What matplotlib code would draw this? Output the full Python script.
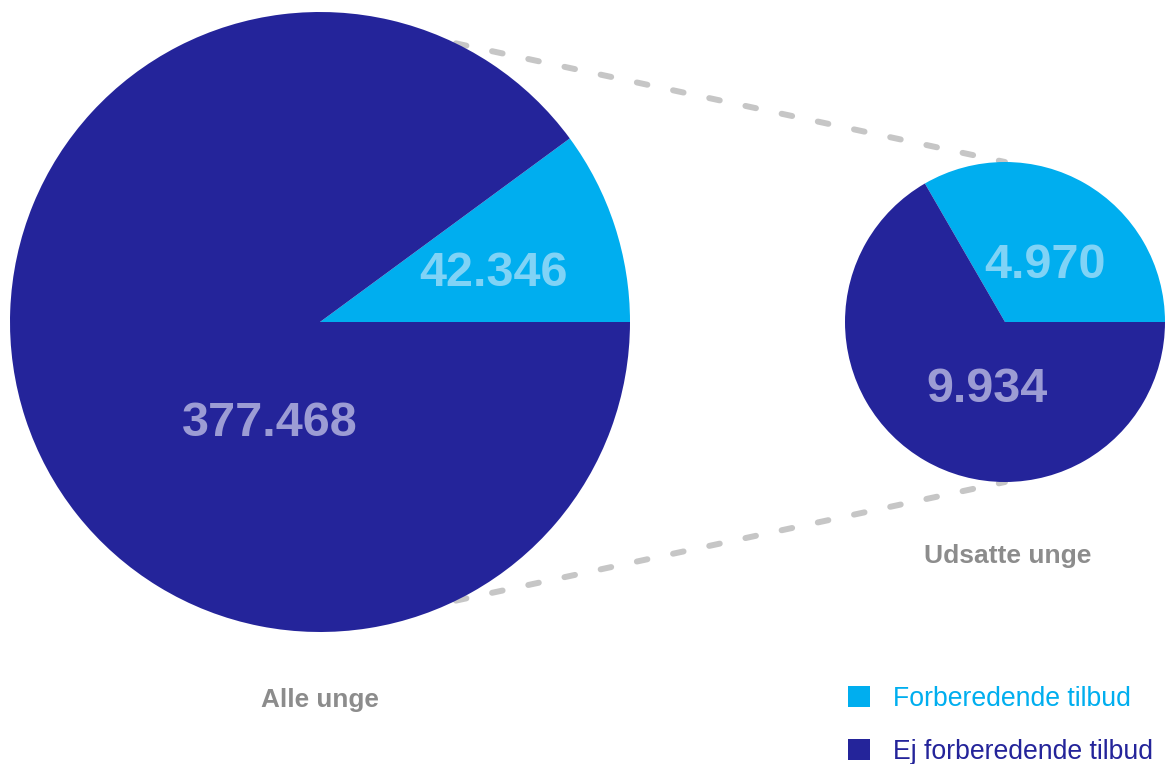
import numpy as np
import matplotlib.pyplot as plt
from matplotlib.patches import Patch

# data
categories = ["Forberedende tilbud", "Ej forberedende tilbud"]
alle_unge = [42346, 377468]
udsatte_unge = [4970, 9934]
titles = ["Alle unge", "Udsatte unge"]

LIGHT = "#00AEEF"
DARK = "#24249A"
LIGHT_TXT = "#80D3F6"
DARK_TXT = "#9C9CD4"
GREY = "#8C8C8C"
FONT = "Liberation Sans"


def fmt(v):
    return f"{v:,}".replace(",", ".")


W, H = 1165, 764
fig = plt.figure(figsize=(W / 100, H / 100), dpi=100)
ax = fig.add_axes([0, 0, 1, 1])

c1, r1 = (320, 442), 310
c2, r2 = (1005, 442), 160

for vals, c, r in [(alle_unge, c1, r1), (udsatte_unge, c2, r2)]:
    ax.pie(vals, colors=[LIGHT, DARK], startangle=0, counterclock=True,
           center=c, radius=r, frame=True,
           wedgeprops=dict(linewidth=0, zorder=2))
ax.set_xlim(0, W)
ax.set_ylim(0, H)
ax.set_aspect("equal")
ax.axis("off")

# connecting dashed lines
ang = np.deg2rad(64)
for sgn in (1, -1):
    x0 = c1[0] + r1 * np.cos(ang)
    y0 = c1[1] + sgn * r1 * np.sin(ang)
    ax.plot([x0, c2[0]], [y0, c2[1] + sgn * r2], color="#C6C6C6", lw=4.3,
            dashes=(1.8, 4.4), dash_capstyle="round", zorder=1)

# value labels
num_kw = dict(ha="center", va="center", fontsize=35, fontweight="bold",
              family=FONT, zorder=5)
ax.text(493, H - 274, fmt(alle_unge[0]), color=LIGHT_TXT, **num_kw)
ax.text(270, H - 424, fmt(alle_unge[1]), color=DARK_TXT, **num_kw)
ax.text(1045, H - 266, fmt(udsatte_unge[0]), color=LIGHT_TXT, **num_kw)
ax.text(987, H - 389, fmt(udsatte_unge[1]), color=DARK_TXT, **num_kw)

# titles
t_kw = dict(ha="center", va="center", fontweight="bold",
            family=FONT, color=GREY)
ax.text(c1[0], H - 700, titles[0], fontsize=18.8, **t_kw)
ax.text(1008, H - 556, titles[1], fontsize=19, **t_kw)

# legend
handles = [Patch(facecolor=LIGHT, edgecolor="none"),
           Patch(facecolor=DARK, edgecolor="none")]
leg = fig.legend(handles, categories, loc="upper left",
                 bbox_to_anchor=(848 / W, 1 - 686 / H),
                 frameon=False, prop=dict(family=FONT, size=19.2),
                 handlelength=0.83, handleheight=0.83, handletextpad=0.86,
                 labelspacing=1.02, borderpad=0, borderaxespad=0)
for txt, col in zip(leg.get_texts(), [LIGHT, DARK]):
    txt.set_color(col)

fig.savefig("out.png", dpi=100)
